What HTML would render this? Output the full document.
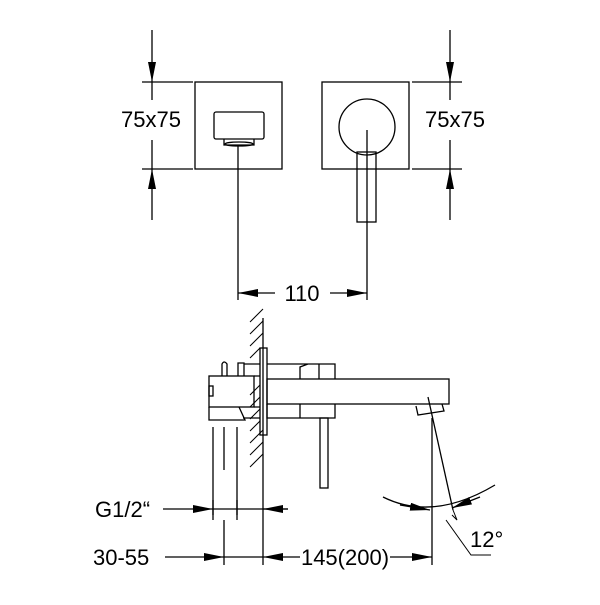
<!DOCTYPE html><html><head><style>body{margin:0;background:#fff}svg text{font-family:"Liberation Sans",sans-serif;fill:#000}</style></head><body>
<svg width="600" height="600" viewBox="0 0 600 600" xmlns="http://www.w3.org/2000/svg" fill="none" stroke="#000" stroke-width="1.3">
<defs><marker id="a" viewBox="0 0 20 8" refX="20" refY="4" markerWidth="20" markerHeight="8" markerUnits="userSpaceOnUse" orient="auto"><path d="M0,0L20,4L0,8z" fill="#000" stroke="none"/></marker></defs>
<!-- top left -->
<rect x="195" y="82" width="87" height="87"/>
<rect x="214" y="112" width="50" height="27" rx="2"/>
<path d="M224,139v6h30v-6"/><ellipse cx="239" cy="144" rx="14" ry="2"/>
<line x1="238" y1="146" x2="238" y2="300"/>
<line x1="142" y1="82" x2="193" y2="82"/><line x1="142" y1="169" x2="193" y2="169"/>
<line x1="152" y1="30" x2="152" y2="82" marker-end="url(#a)"/><line x1="152" y1="82" x2="152" y2="100"/>
<line x1="152" y1="140" x2="152" y2="169"/><line x1="152" y1="220" x2="152" y2="169" marker-end="url(#a)"/>
<text x="151" y="127" font-size="22" text-anchor="middle" stroke="none">75x75</text>
<!-- top right -->
<rect x="322" y="82" width="87" height="87"/>
<circle cx="367" cy="127" r="28"/>
<rect x="357" y="152" width="19" height="70"/>
<line x1="367" y1="130" x2="367" y2="300"/>
<line x1="412" y1="82" x2="462" y2="82"/><line x1="412" y1="169" x2="462" y2="169"/>
<line x1="450" y1="30" x2="450" y2="82" marker-end="url(#a)"/><line x1="450" y1="82" x2="450" y2="100"/>
<line x1="450" y1="140" x2="450" y2="169"/><line x1="450" y1="220" x2="450" y2="169" marker-end="url(#a)"/>
<text x="455" y="127" font-size="22" text-anchor="middle" stroke="none">75x75</text>
<!-- 110 -->
<line x1="275" y1="293" x2="238" y2="293" marker-end="url(#a)"/>
<line x1="330" y1="293" x2="367" y2="293" marker-end="url(#a)"/>
<text x="302" y="301" font-size="22" text-anchor="middle" stroke="none">110</text>
<!-- wall -->
<line x1="263" y1="318" x2="263" y2="565"/>
<path d="M250,322l13,-13M250,334l13,-13M250,346l13,-13M250,358l10,-10M250,395l10,-10M250,407l10,-10M250,419l10,-10M250,431l10,-10M250,443l13,-13M250,455l13,-13M250,467l13,-13" stroke-width="1"/>
<rect x="260" y="348" width="7" height="87"/>
<!-- valve -->
<rect x="209" y="376" width="45" height="31"/>
<rect x="209" y="386" width="4" height="10"/>
<path d="M222,376v-12q2,-4 5,0v12M238,376v-13h6v13"/>
<path d="M244,364h16M254,376h6M254,407h6M243,418h17"/>
<path d="M209,407v13h36l-6,-13"/>
<line x1="213" y1="427" x2="213" y2="515"/><line x1="224" y1="427" x2="224" y2="470"/><line x1="237" y1="427" x2="237" y2="515"/>
<!-- spout -->
<rect x="267" y="379" width="182" height="25"/>
<path d="M267,364h52v15M300,379v-12l8,-3h27v15"/>
<path d="M267,404v14h68v-14M300,404v14"/>
<rect x="320" y="418" width="8" height="70"/>
<path d="M416,406l2,9l26,-4l-2,-7"/>
<!-- 12 deg -->
<line x1="432" y1="418" x2="432" y2="565"/>
<line x1="428" y1="397" x2="453" y2="510"/>
<path d="M453,510l4,10l-5,-5M446,520l25,35h20" stroke-width="1"/>
<path d="M383,497q50,25 112,-12"/>
<line x1="400" y1="505" x2="430" y2="510" marker-end="url(#a)"/>
<line x1="480" y1="497" x2="452" y2="508" marker-end="url(#a)"/>
<text x="470" y="547" font-size="22" stroke="none">12°</text>
<!-- G1/2 -->
<line x1="163" y1="509" x2="213" y2="509" marker-end="url(#a)"/>
<line x1="213" y1="509" x2="288" y2="509"/>
<line x1="288" y1="509" x2="263" y2="509" marker-end="url(#a)"/>
<line x1="213" y1="500" x2="213" y2="520"/><line x1="237" y1="500" x2="237" y2="520"/>
<text x="95" y="517" font-size="22" stroke="none">G1/2“</text>
<!-- 30-55 -->
<line x1="224" y1="520" x2="224" y2="565"/>
<line x1="165" y1="557" x2="224" y2="557" marker-end="url(#a)"/>
<line x1="224" y1="557" x2="263" y2="557"/>
<line x1="300" y1="557" x2="263" y2="557" marker-end="url(#a)"/>
<line x1="390" y1="557" x2="432" y2="557" marker-end="url(#a)"/>
<text x="93" y="565" font-size="22" stroke="none">30-55</text>
<text x="345" y="565" font-size="22" text-anchor="middle" stroke="none">145(200)</text>
</svg></body></html>
